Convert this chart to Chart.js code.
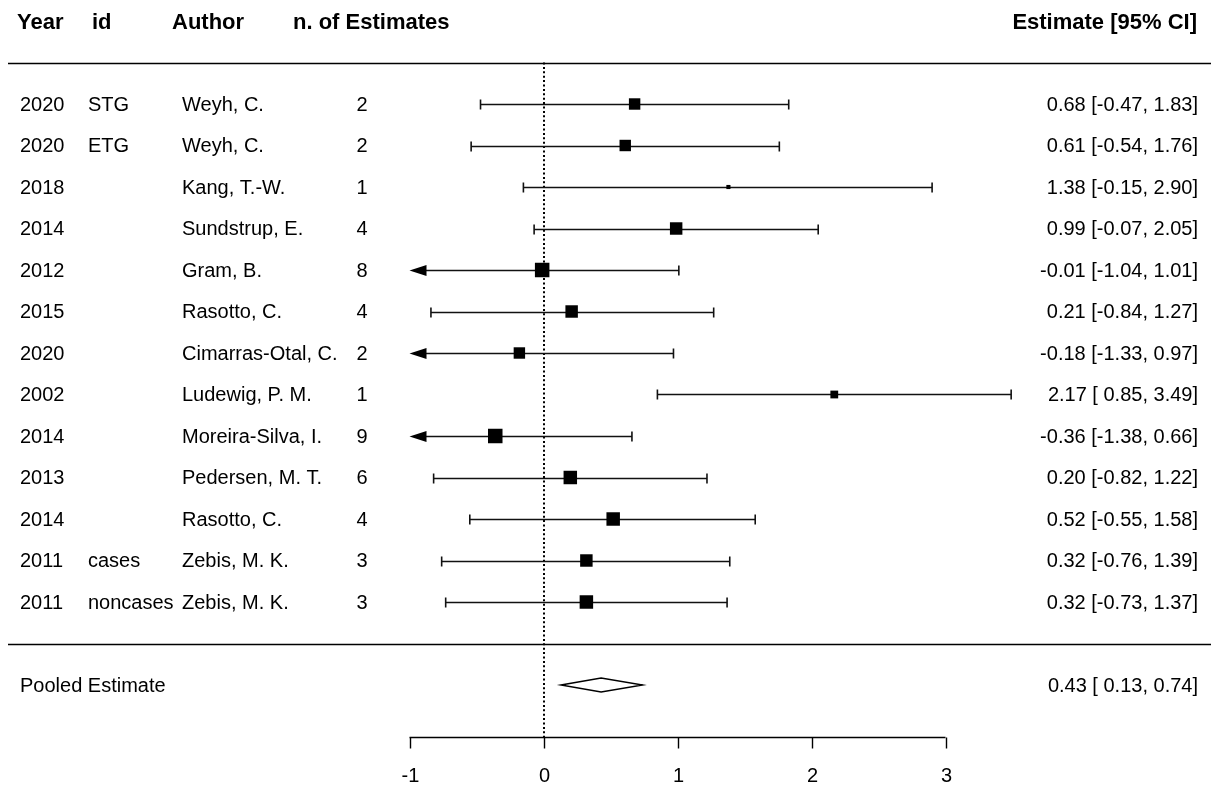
<!DOCTYPE html>
<html>
<head>
<meta charset="utf-8">
<script src="https://cdn.jsdelivr.net/npm/chart.js@4/dist/chart.umd.min.js"></script>
<style>
html,body{margin:0;padding:0;background:#fff;overflow:hidden;}
#wrap{width:1211px;height:785px;position:relative;}
</style>
</head>
<body>
<div id="wrap"><canvas id="c"></canvas></div>
<script>
// ---- data ----
const years   = [2020, 2020, 2018, 2014, 2012, 2015, 2020, 2002, 2014, 2013, 2014, 2011, 2011];
const ids     = ['STG', 'ETG', '', '', '', '', '', '', '', '', '', 'cases', 'noncases'];
const authors = ['Weyh, C.', 'Weyh, C.', 'Kang, T.-W.', 'Sundstrup, E.', 'Gram, B.', 'Rasotto, C.',
                 'Cimarras-Otal, C.', 'Ludewig, P. M.', 'Moreira-Silva, I.', 'Pedersen, M. T.',
                 'Rasotto, C.', 'Zebis, M. K.', 'Zebis, M. K.'];
const nEstimates = [2, 2, 1, 4, 8, 4, 2, 1, 9, 6, 4, 3, 3];
const estimates  = [0.68, 0.61, 1.38, 0.99, -0.01, 0.21, -0.18, 2.17, -0.36, 0.20, 0.52, 0.32, 0.32];
const lowerCI    = [-0.47, -0.54, -0.15, -0.07, -1.04, -0.84, -1.33, 0.85, -1.38, -0.82, -0.55, -0.76, -0.73];
const upperCI    = [1.83, 1.76, 2.90, 2.05, 1.01, 1.27, 0.97, 3.49, 0.66, 1.22, 1.58, 1.39, 1.37];
const weights    = [6.9, 6.9, 0.9, 8.2, 11.1, 8.2, 6.9, 3.2, 11.1, 9.6, 9.6, 8.2, 9.6]; // estimated %
const pooled     = {est: 0.43, lo: 0.13, hi: 0.74};
const axisTicks  = [-1, 0, 1, 2, 3];
const headers    = ['Year', 'id', 'Author', 'n. of Estimates', 'Estimate [95% CI]'];

// ---- layout helpers (not data) ----
const ROW_HEADER = -2, ROW_TOPRULE = -1, ROW_BOTRULE = 13, ROW_POOLED = 14, ROW_AXIS = 15.25;
const FONT = '20px "Liberation Sans", Arial, sans-serif';
const FONT_B = 'bold 22px "Liberation Sans", Arial, sans-serif';
const maxW = Math.max(...weights);
const boxSide = w => Math.sqrt(w / maxW) * 14.5;

function f2(v){ return v.toFixed(2); }
function ciLabel(e, l, u){
  const ls = l < 0 ? f2(l) : ' ' + f2(l);
  return f2(e) + ' [' + ls + ', ' + f2(u) + ']';
}

const forest = {
  id: 'forest',
  beforeDatasetsDraw(chart){
    const {ctx, scales:{x, y}} = chart;
    const X = v => x.getPixelForValue(v), Y = v => y.getPixelForValue(v);
    ctx.save();
    ctx.strokeStyle = '#000';
    ctx.lineCap = 'butt';
    // horizontal rules
    ctx.lineWidth = 1.3;
    [ROW_TOPRULE, ROW_BOTRULE].forEach(r => {
      const py = Math.round(Y(r)) + 0.5;
      ctx.beginPath(); ctx.moveTo(8, py); ctx.lineTo(1211, py); ctx.stroke();
    });
    // dotted reference line at 0
    ctx.save();
    ctx.setLineDash([2, 2.4]);
    ctx.lineWidth = 2;
    ctx.beginPath(); ctx.moveTo(Math.round(X(0)), Y(ROW_TOPRULE)); ctx.lineTo(Math.round(X(0)), Y(ROW_AXIS)); ctx.stroke();
    ctx.restore();
    // CI lines
    ctx.strokeStyle = '#111';
    ctx.fillStyle = '#000';
    ctx.lineWidth = 1.6;
    const xmin = axisTicks[0];
    estimates.forEach((e, i) => {
      const py = Math.round(Y(i)) + 0.5;
      const clipped = lowerCI[i] < xmin;
      const lo = clipped ? xmin : lowerCI[i];
      const x1 = X(lo), x2 = X(upperCI[i]);
      ctx.beginPath(); ctx.moveTo(clipped ? x1 + 10 : x1, py); ctx.lineTo(x2, py); ctx.stroke();
      ctx.beginPath(); ctx.moveTo(x2, py - 5); ctx.lineTo(x2, py + 5); ctx.stroke();
      if (clipped){
        ctx.beginPath(); ctx.moveTo(x1, py); ctx.lineTo(x1 + 17, py - 5.5); ctx.lineTo(x1 + 17, py + 5.5); ctx.closePath(); ctx.fill();
      } else {
        ctx.beginPath(); ctx.moveTo(x1, py - 5); ctx.lineTo(x1, py + 5); ctx.stroke();
      }
    });
    // pooled diamond
    const pyd = Y(ROW_POOLED);
    ctx.fillStyle = '#fff';
    ctx.strokeStyle = '#000';
    ctx.lineWidth = 1.4;
    ctx.beginPath();
    ctx.moveTo(X(pooled.lo), pyd);
    ctx.lineTo(X(pooled.est), pyd - 7);
    ctx.lineTo(X(pooled.hi), pyd);
    ctx.lineTo(X(pooled.est), pyd + 7);
    ctx.closePath(); ctx.fill(); ctx.stroke();
    // axis
    const pya = Math.round(Y(ROW_AXIS)) + 0.5;
    ctx.lineWidth = 1.4;
    ctx.beginPath(); ctx.moveTo(X(axisTicks[0]), pya); ctx.lineTo(X(axisTicks[axisTicks.length-1]), pya); ctx.stroke();
    ctx.fillStyle = '#000';
    ctx.font = FONT;
    ctx.textAlign = 'center';
    ctx.textBaseline = 'middle';
    axisTicks.forEach(t => {
      const px = Math.round(X(t)) + 0.5;
      ctx.beginPath(); ctx.moveTo(px, pya); ctx.lineTo(px, pya + 11); ctx.stroke();
      ctx.fillText(String(t), px, pya + 39);
    });
    ctx.restore();
  },
  afterDatasetsDraw(chart){
    const {ctx, scales:{y}} = chart;
    const Y = v => y.getPixelForValue(v);
    ctx.save();
    ctx.fillStyle = '#000';
    ctx.textBaseline = 'middle';
    ctx.font = FONT_B;
    const hy = Y(ROW_HEADER) + 2;
    ctx.textAlign = 'left';
    ctx.fillText(headers[0], 17, hy);
    ctx.fillText(headers[1], 92, hy);
    ctx.fillText(headers[2], 172, hy);
    ctx.fillText(headers[3], 293, hy);
    ctx.textAlign = 'right';
    ctx.fillText(headers[4], 1197, hy);
    ctx.font = FONT;
    estimates.forEach((e, i) => {
      const py = Y(i) + 1;
      ctx.textAlign = 'left';
      ctx.fillText(String(years[i]), 20, py);
      ctx.fillText(ids[i], 88, py);
      ctx.fillText(authors[i], 182, py);
      ctx.textAlign = 'center';
      ctx.fillText(String(nEstimates[i]), 362, py);
      ctx.textAlign = 'right';
      ctx.fillText(ciLabel(e, lowerCI[i], upperCI[i]), 1198, py);
    });
    const pp = Y(ROW_POOLED) + 1;
    ctx.textAlign = 'left';
    ctx.fillText('Pooled Estimate', 20, pp);
    ctx.textAlign = 'right';
    ctx.fillText(ciLabel(pooled.est, pooled.lo, pooled.hi), 1198, pp);
    ctx.restore();
  }
};

new Chart(document.getElementById('c'), {
  type: 'scatter',
  data: {
    datasets: [{
      data: estimates.map((e, i) => ({x: e, y: i})),
      pointStyle: 'rect',
      pointRadius: weights.map(w => boxSide(w) / Math.SQRT2),
      backgroundColor: '#000',
      borderColor: '#000',
      borderWidth: 0
    }]
  },
  options: {
    responsive: true,
    maintainAspectRatio: false,
    animation: false,
    events: [],
    layout: {padding: 0, autoPadding: false},
    plugins: {legend: {display: false}, tooltip: {enabled: false}},
    scales: {
      x: {type: 'linear', display: false, min: -543.5 / 134, max: (1211 - 543.5) / 134},
      y: {type: 'linear', display: false, reverse: true, min: -104 / 41.5, max: (785 - 104) / 41.5}
    }
  },
  plugins: [forest]
});
</script>
</body>
</html>
